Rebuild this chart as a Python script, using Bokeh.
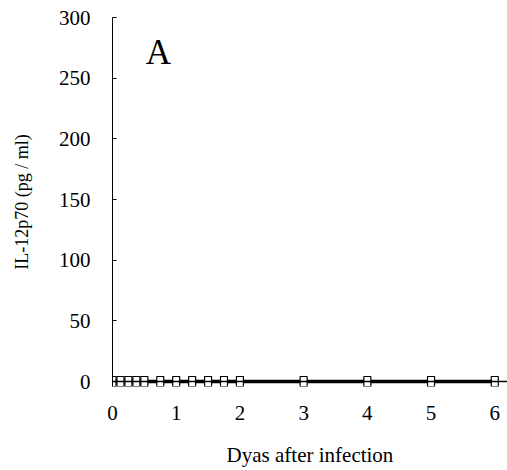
from bokeh.plotting import figure
from bokeh.models import Range1d, FixedTicker, Label, ColumnDataSource, Span
from bokeh.embed import file_html
from bokeh.resources import INLINE

days = [0, 0.125, 0.25, 0.375, 0.5, 0.75, 1, 1.25, 1.5, 1.75, 2, 3, 4, 5, 6]
il12p70 = [0, 0, 0, 0, 0, 0, 0, 0, 0, 0, 0, 0, 0, 0, 0]
x_ticks = [0, 1, 2, 3, 4, 5, 6]
y_ticks = [0, 50, 100, 150, 200, 250, 300]

FONT = "Liberation Serif"

p = figure(width=507, height=470, output_backend="svg", toolbar_location=None,
           x_range=Range1d(0, 6.2), y_range=Range1d(-4.12, 300),
           min_border_left=112, min_border_right=0, min_border_top=17, min_border_bottom=84)
p.outline_line_color = None
p.grid.visible = False
p.background_fill_color = "white"
p.border_fill_color = "white"

# x-axis baseline at y = 0
p.add_layout(Span(location=0, dimension="width", line_color="black", line_width=1.5))

src = ColumnDataSource(dict(x=days, y=il12p70))
p.line("x", "y", source=src, line_color="black", line_width=3.5)
p.rect("x", "y", width=7, height=10, width_units="screen", height_units="screen",
       source=src, fill_color="white", line_color="black", line_width=1.2)

for ax in (p.xaxis[0], p.yaxis[0]):
    ax.axis_line_color = "black"
    ax.axis_line_width = 1
    ax.major_tick_out = 0
    ax.minor_tick_line_color = None
    ax.major_tick_line_color = "black"
    ax.major_label_text_font = FONT
    ax.major_label_text_font_size = "21px"
    ax.major_label_text_color = "black"
    ax.axis_label_text_font = FONT
    ax.axis_label_text_font_style = "normal"
    ax.axis_label_text_color = "black"

p.xaxis.axis_line_color = None
p.xaxis.major_tick_line_color = None
p.yaxis.major_tick_in = 4
p.xaxis.axis_label_text_font_size = "21px"
p.yaxis.axis_label_text_font_size = "18px"
p.xaxis.ticker = FixedTicker(ticks=x_ticks)
p.yaxis.ticker = FixedTicker(ticks=y_ticks)
p.xaxis.major_label_standoff = 19
p.yaxis.major_label_standoff = 22
p.xaxis.axis_label = "Dyas after infection"
p.yaxis.axis_label = "IL-12p70 (pg / ml)"
p.xaxis.axis_label_standoff = 20
p.yaxis.axis_label_standoff = 24

p.add_layout(Label(x=0.52, y=271, text="A", text_font=FONT, text_font_size="35px",
                   text_color="black", text_baseline="alphabetic"))

open("out.html", "w").write(file_html(p, INLINE))
